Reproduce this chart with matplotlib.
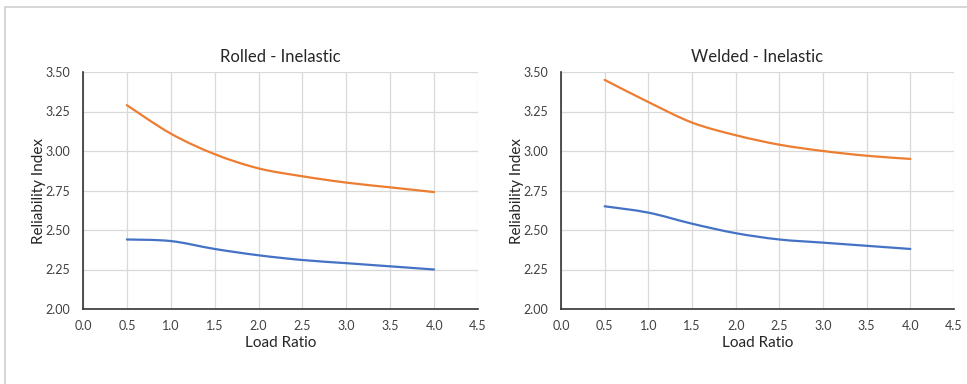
import numpy as np
import matplotlib
matplotlib.use("Agg")
import matplotlib.pyplot as plt
from matplotlib.path import Path
from matplotlib.patches import PathPatch, Rectangle

plt.rcParams['font.family'] = ['Lato', 'DejaVu Sans']

load_ratio = [0.5, 1.0, 1.5, 2.0, 2.5, 3.0, 3.5, 4.0]
rolled_upper = [3.29, 3.11, 2.98, 2.89, 2.84, 2.80, 2.77, 2.74]
rolled_lower = [2.44, 2.43, 2.38, 2.34, 2.31, 2.29, 2.27, 2.25]
welded_upper = [3.45, 3.31, 3.18, 3.10, 3.04, 3.00, 2.97, 2.95]
welded_lower = [2.65, 2.61, 2.54, 2.48, 2.44, 2.42, 2.40, 2.38]
titles = ["Rolled - Inelastic", "Welded - Inelastic"]
xticks = [0.0, 0.5, 1.0, 1.5, 2.0, 2.5, 3.0, 3.5, 4.0, 4.5]
yticks = [2.00, 2.25, 2.50, 2.75, 3.00, 3.25, 3.50]

ORANGE = "#ED7D31"
BLUE = "#4472C4"


def smooth_path(x, y):
    pts = np.column_stack([x, y]).astype(float)
    n = len(pts)
    verts = [pts[0]]
    codes = [Path.MOVETO]
    for i in range(n - 1):
        p0 = pts[i - 1] if i > 0 else pts[i]
        p1 = pts[i]
        p2 = pts[i + 1]
        p3 = pts[i + 2] if i + 2 < n else pts[i + 1]
        c1 = p1 + (p2 - p0) / 6.0
        c2 = p2 - (p3 - p1) / 6.0
        verts += [c1, c2, p2]
        codes += [Path.CURVE4] * 3
    return Path(verts, codes)


fig = plt.figure(figsize=(9.67, 3.84), dpi=100)
fig.patches.append(Rectangle((5 / 967, -0.1), 1.2, 1 - 7 / 384 + 0.1,
                             transform=fig.transFigure, fill=False,
                             edgecolor="#CFCFCF", linewidth=1.2))

positions = [[83 / 967, 1 - 309 / 384, 395 / 967, 237 / 384],
             [561 / 967, 1 - 309 / 384, 393 / 967, 237 / 384]]
series = [(rolled_upper, rolled_lower), (welded_upper, welded_lower)]

for pos, title, (up, lo) in zip(positions, titles, series):
    ax = fig.add_axes(pos)
    for vals, col in ((up, ORANGE), (lo, BLUE)):
        ax.add_patch(PathPatch(smooth_path(load_ratio, vals), fill=False,
                               edgecolor=col, linewidth=1.6,
                               capstyle='round', joinstyle='round'))
    ax.set_xlim(0, 4.5)
    ax.set_ylim(2.0, 3.5)
    ax.set_xticks(xticks)
    ax.set_xticklabels([f"{v:.1f}" for v in xticks])
    ax.set_yticks(yticks)
    ax.set_yticklabels([f"{v:.2f}" for v in yticks])
    ax.grid(True, color="#D9D9D9", linewidth=0.9)
    ax.set_axisbelow(True)
    for s in ("top", "right"):
        ax.spines[s].set_visible(False)
    for s in ("left", "bottom"):
        ax.spines[s].set_color("#333333")
        ax.spines[s].set_linewidth(1.2)
    ax.tick_params(axis='x', length=0, labelsize=9, colors="#404040", pad=8)
    ax.tick_params(axis='y', length=0, labelsize=9, colors="#404040", pad=9)
    ax.set_xlabel("Load Ratio", fontsize=11, color="#262626", labelpad=3)
    ax.set_ylabel("Reliability Index", fontsize=11, color="#262626", labelpad=0)
    ax.set_title(title, fontsize=12, color="#262626", pad=7)

fig.savefig("out.png", dpi=100)
